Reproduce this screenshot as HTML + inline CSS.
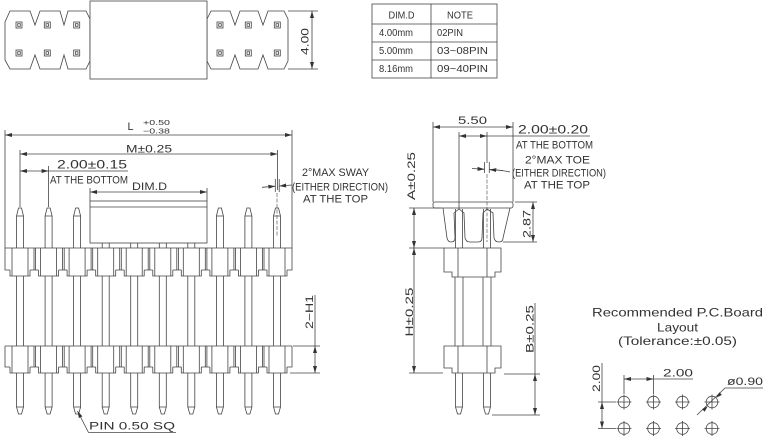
<!DOCTYPE html>
<html><head><meta charset="utf-8"><style>
html,body{margin:0;padding:0;background:#fff}
svg{display:block}
text{font-family:"Liberation Sans",sans-serif;fill:#333}
</style></head><body>
<svg width="768" height="443" viewBox="0 0 768 443" xmlns="http://www.w3.org/2000/svg">
<defs>
<marker id="a" viewBox="0 0 7 4" refX="7" refY="2" markerWidth="7" markerHeight="4" markerUnits="userSpaceOnUse" orient="auto-start-reverse"><path d="M0,0L7,2L0,4z" fill="#333"/></marker>
<path id="pt" d="M-3.5,248V216L-1.5,208H1.5L3.5,216V248M-3.5,216H3.5"/>
<path id="ps" d="M-3.5,243V248M3.5,243V248"/>
<path id="pm" d="M-3.5,276V346M3.5,276V346"/>
<path id="pb" d="M-3.5,373V407L-1.5,414H1.5L3.5,407V373M-3.5,407H3.5"/>
<path id="cu" d="M-8,248V276M8,248V276M-10,270V276H10V270"/>
<path id="nu" d="M10,270H18.56M14,248V270M15.6,248V270"/>
<path id="cl" d="M-8,346V373M8,346V373M-10,367V373H10V367"/>
<path id="nl" d="M10,367H18.56M14,346V367M15.6,346V367"/>
<g id="sq"><rect x="-3" y="-3" width="6" height="6"/><rect x="-1.3" y="-1.3" width="2.6" height="2.6"/></g>
</defs>

<g stroke="#444" stroke-width="0.8" fill="none">
<!-- ===== top view ===== -->
<path d="M10,11H30L35,25L40,11H60L64,25L68,11H86L90,19V61L86,69H68L64,55L60,69H40L35,55L30,69H10L5,60V22Z"/>
<path d="M207,19L211,11H230L235,25L240,11H258L263,25L268,11H284L288,19V61L284,69H268L263,55L258,69H240L235,55L230,69H211L207,61Z"/>
<rect x="90" y="1" width="117" height="78" fill="#fff"/>
<use href="#sq" x="19" y="25"/><use href="#sq" x="47.3" y="25"/><use href="#sq" x="76.7" y="25"/>
<use href="#sq" x="19" y="53"/><use href="#sq" x="47.3" y="53"/><use href="#sq" x="76.7" y="53"/>
<use href="#sq" x="220" y="25"/><use href="#sq" x="248.3" y="25"/><use href="#sq" x="277.3" y="25"/>
<use href="#sq" x="220" y="53"/><use href="#sq" x="248.3" y="53"/><use href="#sq" x="277.3" y="53"/>
<path d="M288,11H318M288,69H318"/>
<line x1="312" y1="11" x2="312" y2="69" marker-start="url(#a)" marker-end="url(#a)"/>

<!-- ===== table ===== -->
<rect x="372" y="4" width="125" height="74"/>
<path d="M431,4V78M372,24H497M372,42H497M372,60H497"/>

<!-- ===== left front view ===== -->
<path d="M5,130V248M292,130V248"/>
<line x1="5" y1="135" x2="292" y2="135" marker-start="url(#a)" marker-end="url(#a)"/>
<path d="M20,150V207M48.6,166V207"/>
<line x1="20" y1="154" x2="277.5" y2="154" marker-start="url(#a)" marker-end="url(#a)"/>
<path d="M277.5,150V190M275.3,179V192M279.2,179V192"/>
<line x1="20" y1="171" x2="48.6" y2="171" marker-start="url(#a)" marker-end="url(#a)"/>
<path d="M48.6,171H128"/>
<path d="M90,188V201M207,188V201"/>
<line x1="90" y1="192" x2="207" y2="192" marker-start="url(#a)" marker-end="url(#a)"/>
<line x1="262" y1="187.3" x2="275.3" y2="186.2" marker-end="url(#a)"/>
<line x1="292" y1="185" x2="279.2" y2="186" marker-end="url(#a)"/>
<line x1="277" y1="193" x2="277" y2="237" stroke-dasharray="4 1.5" stroke-width="0.6"/>

<!-- pins -->
<use href="#pt" x="20"/><use href="#pt" x="48.6"/><use href="#pt" x="77.1"/>
<use href="#pt" x="219.9"/><use href="#pt" x="248.4"/><use href="#pt" x="277"/>
<use href="#ps" x="105.7"/><use href="#ps" x="134.2"/><use href="#ps" x="162.8"/><use href="#ps" x="191.3"/>
<rect x="90" y="201" width="117" height="42"/>
<path d="M90,207H207"/>

<use href="#pm" x="20"/><use href="#pm" x="48.6"/><use href="#pm" x="77.1"/><use href="#pm" x="105.7"/><use href="#pm" x="134.2"/>
<use href="#pm" x="162.8"/><use href="#pm" x="191.3"/><use href="#pm" x="219.9"/><use href="#pm" x="248.4"/><use href="#pm" x="277"/>
<use href="#pb" x="20"/><use href="#pb" x="48.6"/><use href="#pb" x="77.1"/><use href="#pb" x="105.7"/><use href="#pb" x="134.2"/>
<use href="#pb" x="162.8"/><use href="#pb" x="191.3"/><use href="#pb" x="219.9"/><use href="#pb" x="248.4"/><use href="#pb" x="277"/>

<!-- upper plastic row -->
<path d="M5,248H292M5,248V270H10M292,248V270H287"/>
<use href="#cu" x="20"/><use href="#cu" x="48.6"/><use href="#cu" x="77.1"/><use href="#cu" x="105.7"/><use href="#cu" x="134.2"/>
<use href="#cu" x="162.8"/><use href="#cu" x="191.3"/><use href="#cu" x="219.9"/><use href="#cu" x="248.4"/><use href="#cu" x="277"/>
<use href="#nu" x="20"/><use href="#nu" x="48.6"/><use href="#nu" x="77.1"/><use href="#nu" x="105.7"/><use href="#nu" x="134.2"/>
<use href="#nu" x="162.8"/><use href="#nu" x="191.3"/><use href="#nu" x="219.9"/><use href="#nu" x="248.4"/>
<!-- lower plastic row -->
<path d="M5,346H292M5,346V367H10M292,346V367H287"/>
<use href="#cl" x="20"/><use href="#cl" x="48.6"/><use href="#cl" x="77.1"/><use href="#cl" x="105.7"/><use href="#cl" x="134.2"/>
<use href="#cl" x="162.8"/><use href="#cl" x="191.3"/><use href="#cl" x="219.9"/><use href="#cl" x="248.4"/><use href="#cl" x="277"/>
<use href="#nl" x="20"/><use href="#nl" x="48.6"/><use href="#nl" x="77.1"/><use href="#nl" x="105.7"/><use href="#nl" x="134.2"/>
<use href="#nl" x="162.8"/><use href="#nl" x="191.3"/><use href="#nl" x="219.9"/><use href="#nl" x="248.4"/>

<!-- 2-H1 -->
<path d="M293,346H320M290,373H320M315,295V346"/>
<line x1="315" y1="346" x2="315" y2="373" marker-start="url(#a)" marker-end="url(#a)"/>
<!-- PIN leader -->
<line x1="88.5" y1="432.5" x2="77.5" y2="411" marker-end="url(#a)"/>
<path d="M88.5,432.5H176"/>

<!-- ===== middle side view ===== -->
<path d="M433,122V202M513,122V202"/>
<line x1="433" y1="127" x2="513" y2="127" marker-start="url(#a)" marker-end="url(#a)"/>
<line x1="459" y1="136" x2="487" y2="136" marker-start="url(#a)" marker-end="url(#a)"/>
<path d="M487,136H590M459,132V209M487,132V163M484.5,162V173M489.3,162V173"/>
<line x1="472" y1="168.5" x2="484.5" y2="169.3" marker-end="url(#a)"/>
<path d="M489.3,169.6Q502,170 510,172"/>
<line x1="503" y1="170.5" x2="489.3" y2="169.6" marker-end="url(#a)"/>
<line x1="487" y1="174" x2="487" y2="242" stroke-dasharray="4 1.5" stroke-width="0.6"/>

<rect x="433" y="202" width="80" height="6" rx="2"/>
<path d="M443,208L447,238Q448,242 451,242Q455,242 455,238L454,213L459,209L464,213L465,238Q466,242 470,242H478Q482,242 482,238L483,213L487,209L493,213L494,238Q495,242 499,242Q503,242 503,238L510,208"/>
<path d="M455.5,209V248M462.5,209V248M483.5,209V248M490.5,209V248"/>

<path d="M515,202H537M503,242H537"/>
<line x1="533" y1="202" x2="533" y2="242" marker-start="url(#a)" marker-end="url(#a)"/>
<path d="M409,208H441M409,248H444M409,373H443"/>
<line x1="414" y1="208" x2="414" y2="248" marker-start="url(#a)" marker-end="url(#a)"/>
<line x1="414" y1="248" x2="414" y2="373" marker-start="url(#a)" marker-end="url(#a)"/>

<path d="M444,248H501V272H495V277H452V272H444Z"/>
<path d="M458,248V277M487,248V277"/>
<path d="M455,277V346M463,277V346M483,277V346M491,277V346"/>
<path d="M444,346H501V368H495V373H452V368H444Z"/>
<path d="M458,346V373M487,346V373"/>
<use href="#pb" x="459"/><use href="#pb" x="487"/>

<path d="M504,374H540M492,415H540M535,303V374"/>
<line x1="535" y1="374" x2="535" y2="415" marker-start="url(#a)" marker-end="url(#a)"/>

<!-- ===== PCB layout ===== -->
<g>
<circle cx="624" cy="402" r="5.8"/><circle cx="653.5" cy="402" r="5.8"/><circle cx="682.5" cy="402" r="5.8"/><circle cx="712" cy="402" r="5.8"/>
<circle cx="624" cy="428.5" r="5.8"/><circle cx="653.5" cy="428.5" r="5.8"/><circle cx="682.5" cy="428.5" r="5.8"/><circle cx="712" cy="428.5" r="5.8"/>
<path d="M616.5,402H631.5M624,394.5V409.5M646,402H661M653.5,394.5V409.5M675,402H690M682.5,394.5V409.5M704.5,402H719.5M712,394.5V409.5"/>
<path d="M616.5,428.5H631.5M624,421V436M646,428.5H661M653.5,421V436M675,428.5H690M682.5,421V436M704.5,428.5H719.5M712,421V436"/>
</g>
<path d="M624,375V394M653.5,375V394"/>
<line x1="624" y1="379" x2="653.5" y2="379" marker-start="url(#a)" marker-end="url(#a)"/>
<path d="M653.5,379H693"/>
<path d="M598,402H616M598,428.5H616M602,363V402"/>
<line x1="602" y1="402" x2="602" y2="428.5" marker-start="url(#a)" marker-end="url(#a)"/>
<path d="M697,415L725,388H763"/>
</g>
<polygon points="707.7,406.2 704.65,411.7 702.15,409.1" fill="#333"/>
<polygon points="716.3,397.8 721.85,394.9 719.35,392.3" fill="#333"/>

<!-- ===== TEXT ===== -->
<text transform="translate(308.5,41.5) rotate(-90)" text-anchor="middle" font-size="11" textLength="27" lengthAdjust="spacingAndGlyphs">4.00</text>

<g font-size="10">
<text x="401.5" y="18.3" text-anchor="middle" textLength="26" lengthAdjust="spacingAndGlyphs">DIM.D</text>
<text x="460" y="18.3" text-anchor="middle" textLength="26" lengthAdjust="spacingAndGlyphs">NOTE</text>
<text x="379" y="36" textLength="34" lengthAdjust="spacingAndGlyphs">4.00mm</text>
<text x="437" y="36" textLength="26" lengthAdjust="spacingAndGlyphs">02PIN</text>
<text x="379" y="54" textLength="34" lengthAdjust="spacingAndGlyphs">5.00mm</text>
<text x="437" y="54" textLength="51" lengthAdjust="spacingAndGlyphs">03~08PIN</text>
<text x="379" y="72" textLength="34" lengthAdjust="spacingAndGlyphs">8.16mm</text>
<text x="437" y="72" textLength="51" lengthAdjust="spacingAndGlyphs">09~40PIN</text>
</g>

<g font-size="11">
<text x="127.5" y="130" textLength="6" lengthAdjust="spacingAndGlyphs">L</text>
<text x="143" y="125" font-size="7.5" textLength="27" lengthAdjust="spacingAndGlyphs">+0.50</text>
<text x="143" y="133.5" font-size="7.5" textLength="27" lengthAdjust="spacingAndGlyphs">−0.38</text>
<text x="126" y="152.5" textLength="46" lengthAdjust="spacingAndGlyphs">M±0.25</text>
<text x="57" y="168.3" font-size="12" textLength="70" lengthAdjust="spacingAndGlyphs">2.00±0.15</text>
<text x="50" y="183.3" textLength="78" lengthAdjust="spacingAndGlyphs">AT THE BOTTOM</text>
<text x="132" y="190" textLength="35" lengthAdjust="spacingAndGlyphs">DIM.D</text>
<text x="302" y="176" textLength="67" lengthAdjust="spacingAndGlyphs">2°MAX SWAY</text>
<text x="292" y="190.5" textLength="96" lengthAdjust="spacingAndGlyphs">(EITHER DIRECTION)</text>
<text x="303" y="202.5" textLength="65" lengthAdjust="spacingAndGlyphs">AT THE TOP</text>
<text transform="translate(313,312) rotate(-90)" text-anchor="middle" textLength="34" lengthAdjust="spacingAndGlyphs">2−H1</text>
<text x="89" y="429.3" textLength="86" lengthAdjust="spacingAndGlyphs">PIN 0.50 SQ</text>

<text x="458" y="124" textLength="29" lengthAdjust="spacingAndGlyphs">5.50</text>
<text x="518" y="133.3" font-size="12" textLength="70" lengthAdjust="spacingAndGlyphs">2.00±0.20</text>
<text x="516" y="148.3" textLength="77" lengthAdjust="spacingAndGlyphs">AT THE BOTTOM</text>
<text x="525" y="163.3" textLength="65" lengthAdjust="spacingAndGlyphs">2°MAX TOE</text>
<text x="512" y="176.7" textLength="94" lengthAdjust="spacingAndGlyphs">(EITHER DIRECTION)</text>
<text x="524" y="188.3" textLength="66" lengthAdjust="spacingAndGlyphs">AT THE TOP</text>
<text transform="translate(415,176) rotate(-90)" text-anchor="middle" textLength="48" lengthAdjust="spacingAndGlyphs">A±0.25</text>
<text transform="translate(530.5,224) rotate(-90)" text-anchor="middle" textLength="28" lengthAdjust="spacingAndGlyphs">2.87</text>
<text transform="translate(413,312) rotate(-90)" text-anchor="middle" textLength="49" lengthAdjust="spacingAndGlyphs">H±0.25</text>
<text transform="translate(533.5,329) rotate(-90)" text-anchor="middle" textLength="48" lengthAdjust="spacingAndGlyphs">B±0.25</text>

<text x="592" y="316.7" font-size="12" textLength="171" lengthAdjust="spacingAndGlyphs">Recommended  P.C.Board</text>
<text x="657" y="331.7" font-size="12" textLength="41" lengthAdjust="spacingAndGlyphs">Layout</text>
<text x="618" y="345" font-size="12" textLength="119" lengthAdjust="spacingAndGlyphs">(Tolerance:±0.05)</text>
<text x="663" y="376.7" textLength="30" lengthAdjust="spacingAndGlyphs">2.00</text>
<text transform="translate(600,378.5) rotate(-90)" text-anchor="middle" textLength="27" lengthAdjust="spacingAndGlyphs">2.00</text>
<text x="727" y="385" textLength="36" lengthAdjust="spacingAndGlyphs">ø0.90</text>
</g>
</svg>
</body></html>
